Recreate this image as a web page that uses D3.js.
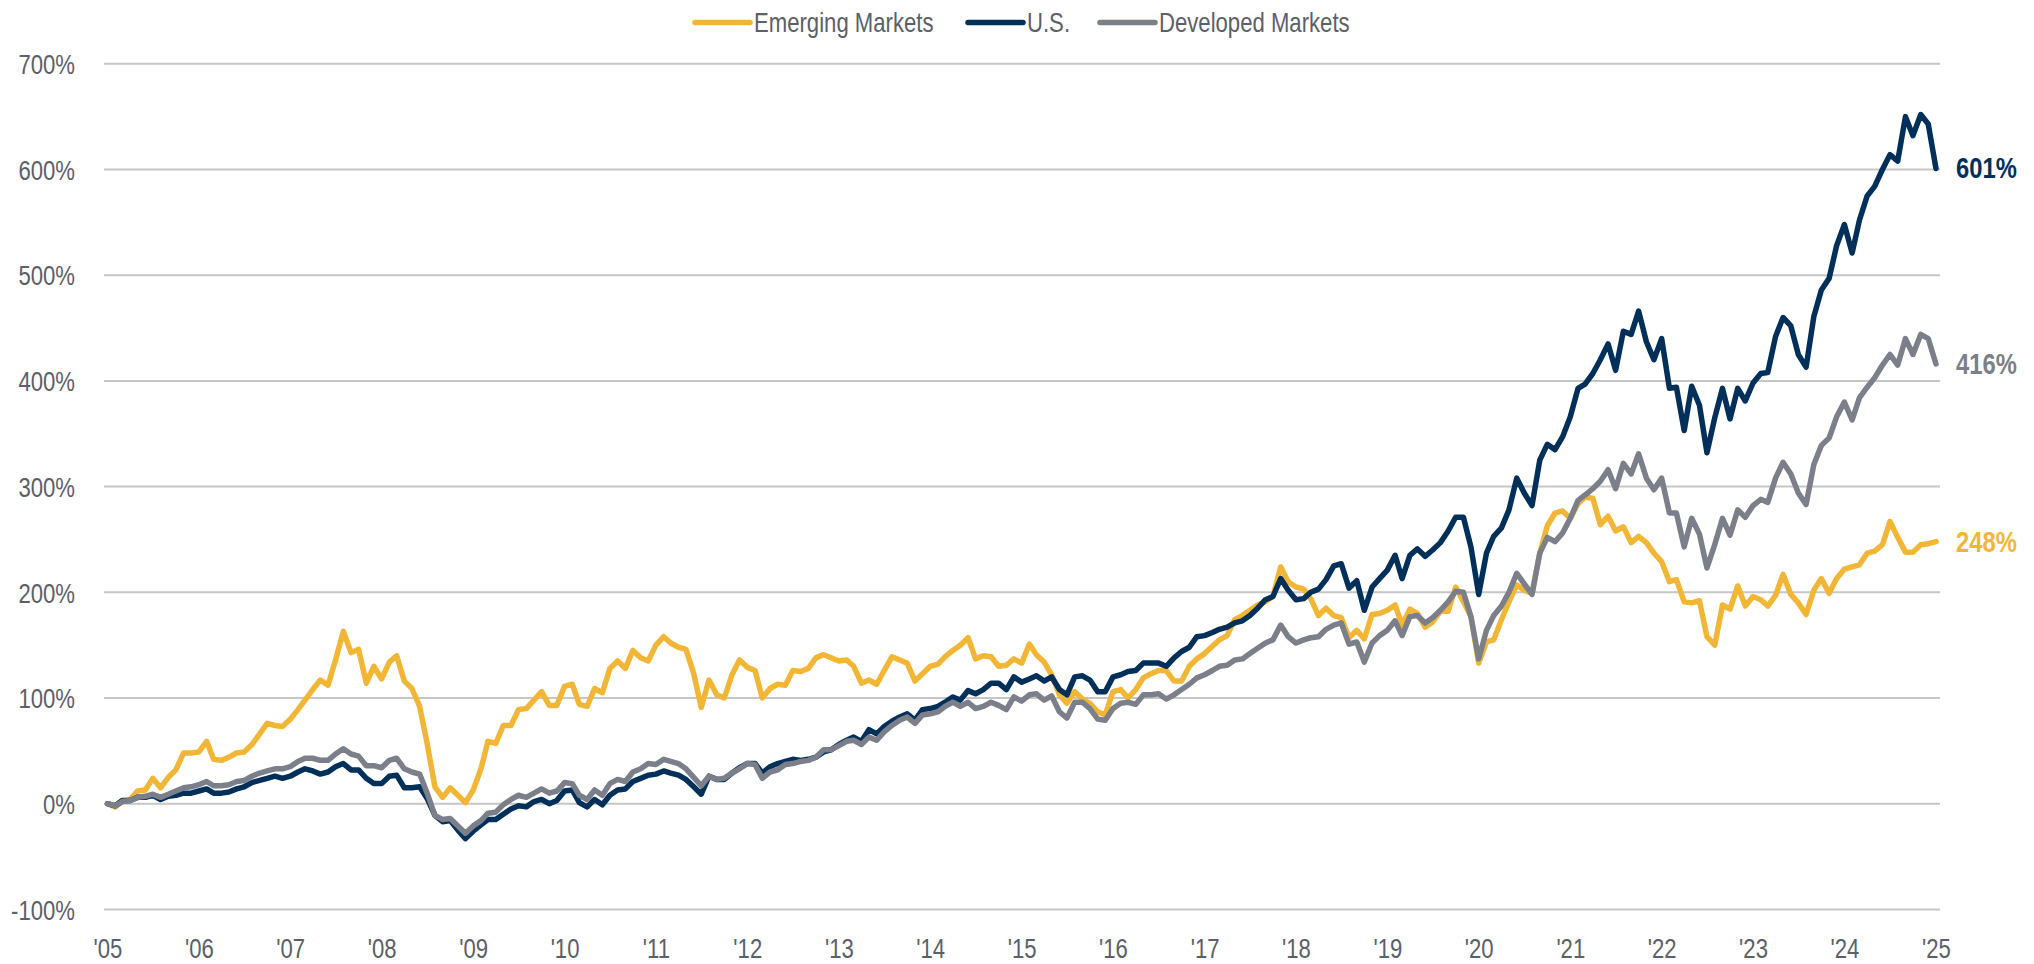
<!DOCTYPE html>
<html lang="en">
<head>
    <meta charset="UTF-8">
    <title>Cumulative Returns: Emerging, U.S., Developed Markets</title>
    <script src="https://d3js.org/d3.v7.min.js"></script>
    <style>
        body { margin: 0; background: #fff; }
        text { font-family: "Liberation Sans", Arial, sans-serif; }
    </style>
</head>
<body>
    <div id="chart"></div>
    <script>
        // monthly cumulative return (%), Jan 2005 .. Jan 2025
        const emerging = [
            0, -3, 2, 4, 12, 13, 24, 15, 25, 32, 48, 48,
            49, 59, 42, 41, 44, 48, 49, 56, 66, 76, 74, 73,
            80, 89, 98, 108, 117, 112, 136, 163, 143, 146, 114, 130,
            118, 134, 140, 116, 109, 92, 57, 16, 6, 15, 8, 1,
            13, 33, 59, 57, 74, 74, 89, 90, 98, 106, 93, 93,
            111, 113, 94, 92, 109, 105, 128, 135, 128, 145, 138, 135,
            150, 158, 152, 148, 146, 123, 91, 117, 103, 100, 122, 136,
            129, 126, 100, 109, 113, 112, 126, 125, 128, 138, 141, 138,
            135, 136, 130, 114, 117, 113, 126, 139, 136, 133, 116, 123,
            130, 132, 139, 145, 150, 157, 137, 140, 139, 130, 131, 137,
            133, 151, 141, 134, 122, 103, 95, 106, 99, 95, 87, 84,
            106, 108, 100, 108, 119, 123, 126, 126, 116, 116, 130, 137,
            142, 149, 155, 159, 174, 178, 183, 188, 191, 196, 224, 210,
            205, 203, 194, 178, 185, 178, 176, 157, 164, 156, 179, 180,
            183, 188, 169, 184, 180, 167, 172, 182, 182, 205, 191, 177,
            133, 153, 155, 174, 191, 207, 202, 199, 237, 263, 275, 277,
            270, 284, 290, 289, 264, 272, 258, 262, 247, 253, 247, 237,
            229, 210, 212, 191, 190, 192, 158, 150, 188, 184, 206, 187,
            196, 193, 187, 197, 217, 198, 190, 179, 202, 213, 199, 213,
            222, 224, 226, 237, 239, 245, 267, 252, 238, 238, 245, 246,
            248
        ];
        const us = [
            0, -2, 3, 3, 6, 6, 8, 4, 7, 8, 10, 10,
            12, 14, 10, 10, 11, 14, 16, 20, 22, 24, 26, 24,
            26, 30, 33, 31, 28, 30, 35, 38, 32, 32, 24, 19,
            19, 26, 27, 15, 15, 16, 5, -11, -17, -16, -25, -33,
            -26, -20, -15, -15, -10, -5, -2, -3, 2, 4, 0, 3,
            12, 13, 1, -3, 4, -1, 8, 13, 14, 21, 24, 27,
            28, 31, 29, 27, 23, 16, 9, 26, 23, 23, 29, 34,
            38, 38, 29, 35, 38, 40, 42, 41, 42, 44, 49, 51,
            56, 60, 63, 59, 70, 66, 73, 78, 82, 85, 79, 89,
            90, 92, 96, 101, 98, 107, 104, 108, 114, 114, 108, 120,
            115, 118, 121, 116, 120, 108, 103, 120, 121, 117, 106, 106,
            120, 122, 125, 126, 133, 133, 133, 130, 138, 144, 148, 158,
            159, 162, 165, 167, 171, 173, 178, 185, 193, 196, 213, 202,
            193, 194, 200, 203, 212, 225, 227, 204, 211, 183, 205, 213,
            221, 235, 213, 235, 241, 234, 240, 247, 258, 271, 271, 243,
            198, 237, 253, 261, 278, 308, 294, 282, 325, 340, 335, 347,
            366, 393, 397, 407, 420, 435, 410, 447, 444, 466, 437, 420,
            440, 393, 394, 353, 395, 377, 332, 365, 393, 364, 393, 381,
            398, 407, 408, 442, 460, 452, 425, 413, 461, 486, 497, 528,
            548, 521, 552, 575, 584, 600, 614, 608, 650, 632, 652, 643,
            601
        ];
        const developed = [
            0, -2, 2, 3, 6, 7, 9, 6, 9, 12, 15, 16,
            18, 21, 17, 17, 18, 21, 22, 26, 29, 31, 33, 33,
            35, 40, 43, 43, 41, 41, 47, 52, 47, 45, 36, 36,
            34, 41, 43, 33, 30, 28, 10, -11, -15, -14, -21, -28,
            -21, -16, -9, -8, -1, 4, 8, 6, 10, 14, 10, 12,
            20, 19, 8, 4, 13, 8, 19, 23, 21, 30, 33, 38,
            37, 42, 40, 38, 33, 25, 17, 26, 23, 24, 29, 33,
            38, 37, 24, 30, 32, 37, 38, 40, 41, 44, 51, 51,
            55, 59, 60, 56, 63, 60, 68, 74, 79, 82, 76, 84,
            85, 87, 92, 96, 92, 96, 90, 92, 96, 93, 89, 101,
            97, 103, 104, 98, 102, 87, 81, 96, 96, 90, 80, 79,
            90, 95, 96, 94, 103, 103, 104, 99, 103, 108, 113, 119,
            122, 126, 130, 131, 136, 137, 142, 147, 152, 155, 169, 158,
            152, 155, 157, 158, 165, 169, 171, 151, 153, 134, 152, 159,
            164, 173, 159, 177, 178, 171, 176, 183, 191, 201, 200, 177,
            137, 164, 178, 187, 200, 218, 208, 198, 237, 252, 248, 256,
            270, 287, 292, 298, 305, 316, 298, 322, 312, 331, 308, 297,
            308, 275, 275, 243, 270, 255, 223, 245, 270, 254, 278, 271,
            282, 288, 285, 308, 323, 312, 294, 283, 321, 339, 346, 366,
            380, 363, 384, 394, 403, 415, 425, 415, 440, 425, 444, 440,
            416
        ];

        const seriesNames = ["Emerging Markets", "U.S.", "Developed Markets"];
        const seriesColors = ["#f2b636", "#00305a", "#7a7f89"];
        const yTicks = [-100, 0, 100, 200, 300, 400, 500, 600, 700];

        const width = 2034;
        const height = 964;
        const textColor = "#5b6068";
        const narrow = 0.82; // horizontal squeeze to mimic a condensed face
        const legendX = [695, 968, 1100];

        const start = new Date(2005, 0, 1);
        const series = [emerging, us, developed].map((vals, k) => ({
            name: seriesNames[k],
            color: seriesColors[k],
            values: vals.map((v, i) => ({ date: d3.timeMonth.offset(start, i), value: v }))
        }));

        const svg = d3.select("#chart").append("svg")
            .attr("width", width)
            .attr("height", height);

        const x = d3.scaleTime()
            .domain([start, new Date(2025, 0, 1)])
            .range([107.5, 1936]);

        const y = d3.scaleLinear()
            .domain([-100, 700])
            .range([909.4, 63.8]);

        // gridlines
        svg.append("g")
            .selectAll("line")
            .data(yTicks)
            .enter().append("line")
            .attr("x1", 104)
            .attr("x2", 1940)
            .attr("y1", d => y(d))
            .attr("y2", d => y(d))
            .attr("stroke", "#c6c6c6")
            .attr("stroke-width", 2);

        // y axis labels
        const yAxis = svg.append("g")
            .attr("transform", "translate(75,0)")
            .attr("font-family", null)
            .call(d3.axisLeft(y).tickValues(yTicks).tickSize(0).tickPadding(0).tickFormat(d => d + "%"));
        yAxis.select(".domain").remove();
        yAxis.selectAll("text")
            .attr("dy", "0.36em")
            .attr("transform", `scale(${narrow},1)`)
            .style("font-size", "27px")
            .attr("fill", textColor);

        // x axis labels
        const xAxis = svg.append("g")
            .attr("font-family", null)
            .call(d3.axisBottom(x).ticks(d3.timeYear.every(1)).tickSize(0).tickFormat(d => "'" + d3.timeFormat("%y")(d)));
        xAxis.select(".domain").remove();
        xAxis.selectAll("text")
            .attr("y", 958)
            .attr("dy", 0)
            .attr("transform", `scale(${narrow},1)`)
            .style("font-size", "27px")
            .attr("fill", textColor);

        const line = d3.line()
            .x(d => x(d.date))
            .y(d => y(d.value));

        svg.append("g")
            .selectAll("path")
            .data(series)
            .enter().append("path")
            .attr("d", d => line(d.values))
            .attr("fill", "none")
            .attr("stroke", d => d.color)
            .attr("stroke-width", 5.5)
            .attr("stroke-linejoin", "round")
            .attr("stroke-linecap", "round");

        // end value labels
        svg.append("g")
            .selectAll("text")
            .data(series)
            .enter().append("text")
            .attr("transform", d => `translate(1956,${y(d.values[d.values.length - 1].value) + 10}) scale(${narrow},1)`)
            .attr("fill", d => d.color)
            .style("font-size", "29px")
            .style("font-weight", "bold")
            .text(d => d.values[d.values.length - 1].value + "%");

        // legend
        const legend = svg.append("g");
        series.forEach((s, k) => {
            const lx = legendX[k];
            legend.append("line")
                .attr("x1", lx)
                .attr("x2", lx + 55)
                .attr("y1", 22.5)
                .attr("y2", 22.5)
                .attr("stroke", s.color)
                .attr("stroke-width", 5.5)
                .attr("stroke-linecap", "round");
            legend.append("text")
                .attr("transform", `translate(${lx + 59},31.5) scale(${narrow},1)`)
                .attr("fill", textColor)
                .style("font-size", "27px")
                .text(s.name);
        });
    </script>
</body>
</html>
